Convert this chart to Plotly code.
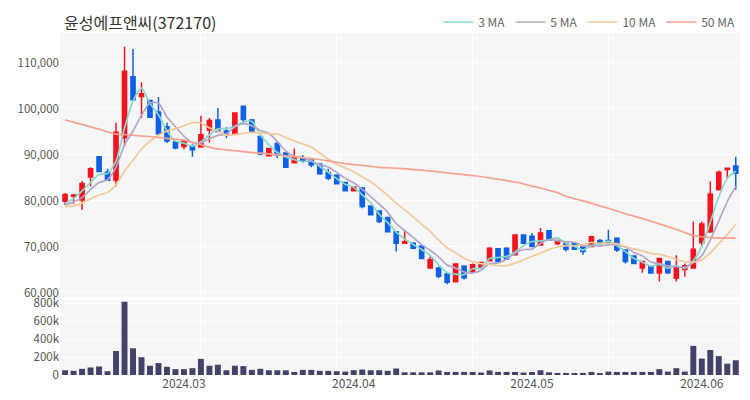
import plotly.graph_objects as go
import pandas as pd

# ---------------- data ----------------
dates = [
    "2024-02-08", "2024-02-13", "2024-02-14", "2024-02-15", "2024-02-16", "2024-02-19",
    "2024-02-20", "2024-02-21", "2024-02-22", "2024-02-23", "2024-02-26", "2024-02-27",
    "2024-02-28", "2024-02-29",
    "2024-03-04", "2024-03-05", "2024-03-06", "2024-03-07", "2024-03-08",
    "2024-03-11", "2024-03-12", "2024-03-13", "2024-03-14", "2024-03-15",
    "2024-03-18", "2024-03-19", "2024-03-20", "2024-03-21", "2024-03-22",
    "2024-03-25", "2024-03-26", "2024-03-27", "2024-03-28", "2024-03-29",
    "2024-04-01", "2024-04-02", "2024-04-03", "2024-04-04", "2024-04-05",
    "2024-04-08", "2024-04-09", "2024-04-11", "2024-04-12",
    "2024-04-15", "2024-04-16", "2024-04-17", "2024-04-18", "2024-04-19",
    "2024-04-22", "2024-04-23", "2024-04-24", "2024-04-25", "2024-04-26",
    "2024-04-29", "2024-04-30",
    "2024-05-02", "2024-05-03", "2024-05-07", "2024-05-08", "2024-05-09", "2024-05-10",
    "2024-05-13", "2024-05-14", "2024-05-16", "2024-05-17",
    "2024-05-20", "2024-05-21", "2024-05-22", "2024-05-23", "2024-05-24",
    "2024-05-27", "2024-05-28", "2024-05-29", "2024-05-30", "2024-05-31",
    "2024-06-03", "2024-06-04", "2024-06-05", "2024-06-07", "2024-06-10",
]

open_ = [79900, 81000, 80200, 85200, 89600, 86200, 84500, 93700, 107000, 102700,
         101800, 99300, 96100, 92800, 91800, 91800, 91700, 95400, 97600, 95200,
         94500, 100600, 97600, 94000, 89800, 92500, 90400, 88300, 89400, 88900,
         88000, 86100, 85600, 84000, 82200, 82800, 78900, 77800, 76400, 73300,
         70800, 70800, 70200, 65400, 65400, 64100, 62400, 65800, 64600, 65400,
         67000, 69600, 69700, 68300, 72600, 72300, 70400, 73500, 70700, 70800,
         70700, 70100, 70100, 71400, 71400, 71900, 69300, 68000, 65400, 65700,
         64300, 66800, 63200, 65100, 65400, 70900, 73300, 82500, 86800, 87600]
high = [81700, 81500, 84300, 87300, 89600, 87000, 97000, 113500, 113000, 105800,
        102000, 102600, 97000, 93000, 93300, 92300, 98500, 98000, 100200, 96000,
        99200, 100700, 97800, 94000, 91450, 92900, 90400, 91400, 90000, 88900,
        88200, 87000, 85800, 84100, 83100, 83000, 78900, 77800, 76400, 73300,
        73700, 71000, 70200, 67900, 65700, 64600, 66300, 66000, 66400, 66800,
        69900, 69600, 69900, 72600, 72600, 73000, 74100, 73500, 71400, 70800,
        70700, 70100, 72400, 71700, 73700, 72100, 69300, 68000, 66800, 65700,
        67500, 66800, 68200, 66400, 75500, 75500, 84200, 86600, 87100, 89600]
low = [79100, 79400, 78100, 83200, 86300, 84400, 83200, 91900, 101700, 98000,
       98000, 94400, 92600, 91200, 91200, 89600, 91700, 92700, 94900, 93600,
       94500, 96900, 94900, 89900, 89800, 89300, 87300, 88300, 88300, 87300,
       85700, 84500, 83700, 82100, 82100, 78400, 77000, 75200, 73300, 69000,
       70800, 69600, 67500, 65400, 63200, 61900, 62400, 62900, 64300, 65400,
       67000, 66800, 67200, 68300, 70800, 70100, 70400, 71500, 70400, 69000,
       69500, 68300, 70100, 70300, 70400, 68900, 66400, 66400, 64400, 64300,
       62500, 64100, 62500, 63500, 65400, 69900, 73000, 82200, 84800, 82400]
close = [81400, 81300, 83800, 87000, 86400, 84500, 94900, 108200, 102000, 103300,
         98200, 94600, 93000, 91500, 93100, 91100, 94400, 97500, 95100, 94500,
         99100, 97700, 95100, 90200, 91400, 90000, 87300, 89600, 88700, 87800,
         85900, 84900, 83700, 82200, 83000, 78800, 77000, 75500, 73300, 70800,
         71100, 69700, 67500, 67200, 63600, 62300, 66300, 63300, 66100, 66600,
         69700, 66800, 67300, 72600, 70800, 70100, 73000, 71500, 71400, 69500,
         69500, 69000, 72200, 70700, 70800, 69300, 66800, 66400, 66800, 64300,
         67500, 64400, 65700, 65900, 69500, 75000, 81500, 86200, 87100, 86000]
# closes of the 9 sessions before the window (needed for the moving averages)
prior_close = [79500, 78000, 77500, 78200, 78800, 78000, 79000, 78300, 78800]

volume = [53000, 46000, 69000, 84000, 95000, 42000, 267000, 815000, 297000, 198000,
          103000, 133000, 91000, 65000, 65000, 76000, 179000, 103000, 114000, 53000,
          103000, 99000, 57000, 69000, 53000, 53000, 53000, 34000, 57000, 57000,
          46000, 46000, 42000, 38000, 53000, 61000, 53000, 53000, 46000, 72000,
          30000, 30000, 30000, 30000, 50000, 34000, 34000, 34000, 34000, 27000,
          50000, 34000, 34000, 34000, 27000, 34000, 53000, 30000, 23000, 23000,
          23000, 23000, 34000, 19000, 38000, 34000, 34000, 34000, 34000, 34000,
          65000, 38000, 76000, 38000, 324000, 183000, 278000, 210000, 126000, 164000]

# 50-day average (history before the window is not shown)
ma50 = [97600, 97100, 96600, 96100, 95600, 95000, 94500, 94400, 94300, 94100,
        94000, 93800, 93600, 93400, 93200, 92700, 92200, 91700, 91300, 91100,
        90900, 90700, 90500, 90400, 90200, 90000, 89800, 89600, 89400, 89200,
        89000, 88700, 88400, 88100, 87900, 87700, 87500, 87300, 87200, 87100,
        87000, 86800, 86700, 86500, 86300, 86100, 85900, 85700, 85500, 85300,
        85000, 84700, 84400, 84100, 83700, 83200, 82800, 82300, 81800, 81000,
        80500, 80000, 79500, 78900, 78400, 77800, 77200, 76700, 76200, 75600,
        75000, 74400, 73800, 73100, 72500, 72200, 72000, 71900, 71900, 71900]

ma_names = ["3 MA", "5 MA", "10 MA", "50 MA"]
ma_colors = ["#86d8cb", "#b3a6c9", "#f2c998", "#f7a18f"]

title_text = "윤성에프앤씨(372170)"

# ---------------- derived ----------------
n = len(dates)
xs = list(range(n))
full = pd.Series(prior_close + close, dtype=float)
ma3 = full.rolling(3).mean().iloc[len(prior_close):].tolist()
ma5 = full.rolling(5).mean().iloc[len(prior_close):].tolist()
ma10 = full.rolling(10).mean().iloc[len(prior_close):].tolist()
ma_series = [ma3, ma5, ma10, ma50]

# month-start ticks
tickvals, ticktext = [], []
for i, d in enumerate(dates):
    if i > 0 and d[:7] != dates[i - 1][:7]:
        tickvals.append(i)
        ticktext.append(d[:4] + "." + d[5:7])

FONT = "Noto Sans CJK KR"
RED = "#f5141e"
BLUE = "#1060e6"

fig = go.Figure()

fig.add_trace(go.Candlestick(
    x=xs, open=open_, high=high, low=low, close=close,
    increasing=dict(line=dict(color=RED, width=1.5), fillcolor=RED),
    decreasing=dict(line=dict(color=BLUE, width=1.5), fillcolor=BLUE),
    whiskerwidth=0, showlegend=False, xaxis="x", yaxis="y",
))

for name, col, ser in zip(ma_names, ma_colors, ma_series):
    fig.add_trace(go.Scatter(
        x=xs, y=ser, mode="lines", name=name,
        line=dict(color=col, width=1.7, shape="spline", smoothing=0.6),
        xaxis="x", yaxis="y",
    ))

fig.add_trace(go.Bar(
    x=xs, y=volume, marker=dict(color="#43436a", line=dict(width=0)),
    showlegend=False, xaxis="x", yaxis="y2",
))

fig.update_layout(
    width=750, height=400,
    margin=dict(l=60, r=10, t=33, b=25, autoexpand=False),
    paper_bgcolor="white", plot_bgcolor="#f6f6f8",
    font=dict(family=FONT, size=12, color="#555"),
    bargap=0.3,
    showlegend=True,
    legend=dict(orientation="h", x=0.987, xanchor="right", xref="container",
                y=0.945, yanchor="middle", yref="container",
                font=dict(size=12, color="#666"), bgcolor="rgba(0,0,0,0)",
                itemwidth=30, traceorder="normal"),
    xaxis=dict(domain=[0, 1], anchor="y2", range=[-0.6, 79.5], automargin=False,
               tickmode="array", tickvals=tickvals, ticktext=ticktext,
               showgrid=False, zeroline=False, ticks="", showline=False,
               tickfont=dict(size=12, color="#555"),
               minor=dict(tickmode="array", tickvals=[16, 32, 48, 64], showgrid=True,
                          gridcolor="white", gridwidth=1, ticks=""),
               rangeslider=dict(visible=False)),
    yaxis=dict(domain=[0.228, 1], range=[59100, 116500], automargin=False,
               tickvals=[60000, 70000, 80000, 90000, 100000, 110000],
               tickformat=",", gridcolor="white", gridwidth=1, zeroline=False,
               ticks="", tickfont=dict(size=11.5, color="#555")),
    yaxis2=dict(domain=[0, 0.219], range=[0, 833000], automargin=False,
                tickvals=[0, 200000, 400000, 600000, 800000],
                ticktext=["0", "200k", "400k", "600k", "800k"],
                gridcolor="white", gridwidth=1, zeroline=False, ticks="",
                tickfont=dict(size=11.5, color="#555")),
    annotations=[dict(text=title_text, xref="paper", yref="paper", x=0.003, y=1.032,
                      xanchor="left", yanchor="middle", showarrow=False,
                      font=dict(family=FONT, size=16, color="#333"))],
)

fig.write_html("out.html", config={"displayModeBar": False},
               post_script="document.body.style.margin='0px';document.body.style.overflow='hidden';")
